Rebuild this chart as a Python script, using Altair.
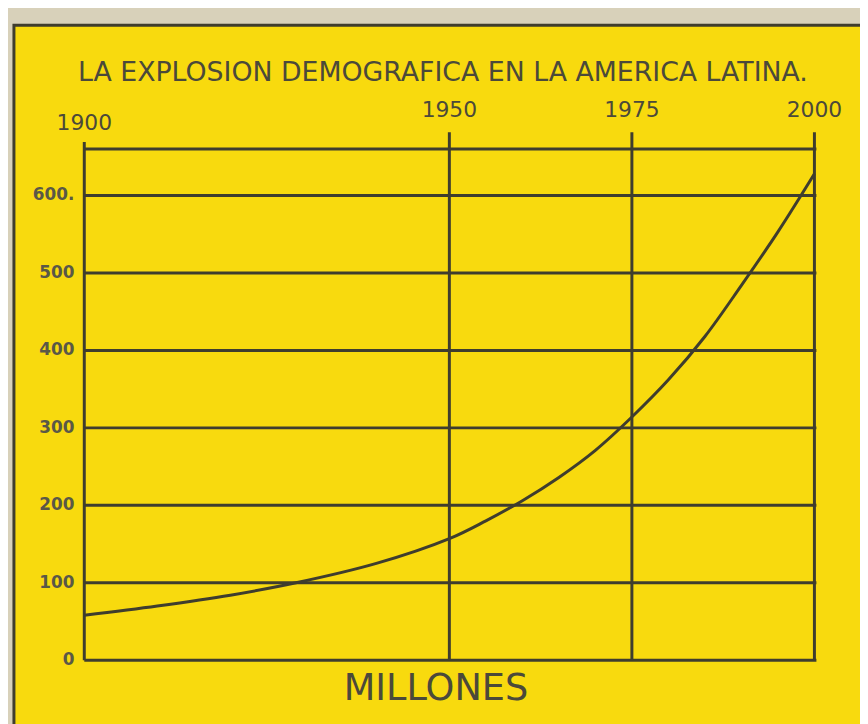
import altair as alt
import pandas as pd

# ---- data ----
title_text = "LA EXPLOSION DEMOGRAFICA EN LA AMERICA LATINA."
unit_text = "MILLONES"

years = [1900, 1910, 1920, 1929, 1940, 1950, 1955, 1960, 1965, 1970, 1975, 1980, 1985, 1990, 1995, 2000]
population = [58, 70, 84, 100, 125, 157, 180, 206, 236, 271, 314, 362, 418, 484, 553, 628]

x_ticks = [1900, 1950, 1975, 2000]
x_labels = ["1900", "1950", "1975", "2000"]
inner_verticals = [1950, 1975, 2000]
left_vertical = [1900]
y_ticks = [0, 100, 200, 300, 400, 500, 600]
y_labels = ["0", "100", "200", "300", "400", "500", "600."]
h_lines = [0, 100, 200, 300, 400, 500, 600, 660]

# ---- style ----
YELLOW = "#f8da0e"
PAPER = "#d8d1ba"
INK = "#3f3d2e"
TEXT = "#4b493a"
W, H = 737, 516

xscale = alt.Scale(domain=[1900, 2000], nice=False, zero=False)
yscale = alt.Scale(domain=[0, 660], nice=False)

one = pd.DataFrame({"k": [0]})

frame = alt.Chart(one).mark_rect(fill=YELLOW, stroke=INK, strokeWidth=3).encode(
    x=alt.value(-71), x2=alt.value(800), y=alt.value(-125), y2=alt.value(620)
)

hgrid = alt.Chart(pd.DataFrame({"v": h_lines})).mark_rule(color=INK, strokeWidth=3).encode(
    y=alt.Y("v:Q", scale=yscale, axis=None), x=alt.value(0), x2=alt.value(W + 2)
)

vgrid = alt.Chart(pd.DataFrame({"yr": inner_verticals})).mark_rule(color=INK, strokeWidth=3).encode(
    x=alt.X("yr:Q", scale=xscale, axis=None), y=alt.value(-17), y2=alt.value(H)
)

vleft = alt.Chart(pd.DataFrame({"yr": left_vertical})).mark_rule(color=INK, strokeWidth=3).encode(
    x=alt.X("yr:Q", scale=xscale, axis=None), y=alt.value(-7), y2=alt.value(H)
)

curve = alt.Chart(pd.DataFrame({"year": years, "pop": population})).mark_line(
    interpolate="catmull-rom", color=INK, strokeWidth=3
).encode(
    x=alt.X("year:Q", scale=xscale, axis=None),
    y=alt.Y("pop:Q", scale=yscale, axis=None),
)

xlab_df = pd.DataFrame({"yr": x_ticks, "lab": x_labels})

xlab_first = alt.Chart(xlab_df.iloc[:1]).mark_text(
    font="DejaVu Sans", fontSize=22, color=TEXT, align="center", baseline="bottom"
).encode(x=alt.X("yr:Q", scale=xscale, axis=None), y=alt.value(-14), text="lab:N")

xlab_rest = alt.Chart(xlab_df.iloc[1:]).mark_text(
    font="DejaVu Sans", fontSize=22, color=TEXT, align="center", baseline="bottom"
).encode(x=alt.X("yr:Q", scale=xscale, axis=None), y=alt.value(-27), text="lab:N")

ylab = alt.Chart(pd.DataFrame({"v": y_ticks, "lab": y_labels})).mark_text(
    font="DejaVu Sans", fontSize=17, fontWeight="bold", color="#5a5847",
    align="right", baseline="middle"
).encode(y=alt.Y("v:Q", scale=yscale, axis=None), x=alt.value(-10), text="lab:N")

title = alt.Chart(pd.DataFrame({"t": [title_text]})).mark_text(
    font="DejaVu Sans", fontSize=27, color=TEXT, align="center", baseline="middle"
).encode(text="t:N", x=alt.value(362), y=alt.value(-77))

unit = alt.Chart(pd.DataFrame({"t": [unit_text]})).mark_text(
    font="DejaVu Sans", fontSize=37, color=TEXT, align="center", baseline="middle"
).encode(text="t:N", x=alt.value(355), y=alt.value(545))

chart = alt.layer(frame, hgrid, vgrid, vleft, curve, xlab_first, xlab_rest, ylab, title, unit).properties(
    width=W, height=H,
    autosize=alt.AutoSizeParams(type="none"),
    padding={"left": 77, "top": 139, "right": 46, "bottom": 61},
    background=PAPER,
).configure_view(stroke=None)

chart.save("out.html", embed_options={"renderer": "svg", "actions": False})
